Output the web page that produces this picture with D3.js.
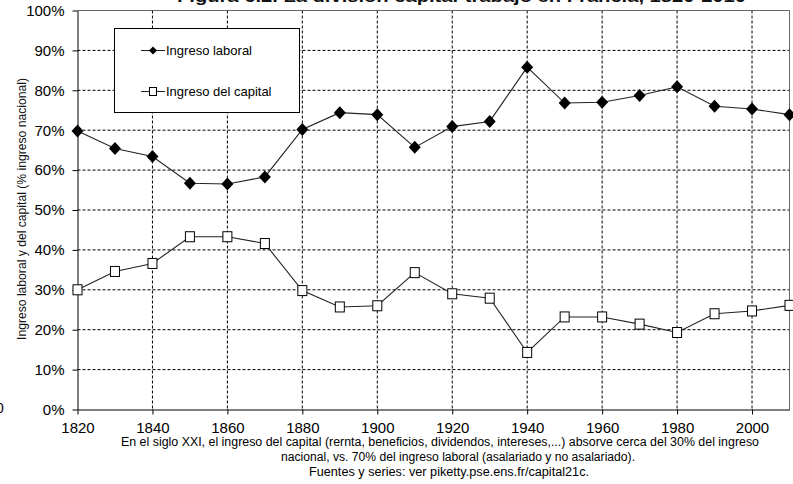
<!DOCTYPE html>
<html><head><meta charset="utf-8">
<script src="https://cdn.jsdelivr.net/npm/d3@7"></script>
<style>
html,body{margin:0;padding:0;background:#fff;overflow:hidden;}
svg{display:block;font-family:"Liberation Sans",Arial,sans-serif;}
</style></head>
<body>
<svg id="c" width="793" height="484"></svg>
<script>
const years = [1820,1830,1840,1850,1860,1870,1880,1890,1900,1910,1920,1930,1940,1950,1960,1970,1980,1990,2000,2010];
const laborShare = [69.8,65.4,63.4,56.7,56.5,58.3,70.2,74.4,73.9,65.7,70.9,72.2,85.8,76.8,77.0,78.7,80.9,76.0,75.3,73.9];
const capitalShare = [30.0,34.6,36.6,43.3,43.3,41.6,29.8,25.7,26.0,34.3,29.0,27.9,14.3,23.2,23.2,21.4,19.3,24.0,24.7,26.1];
const xTicks = [1820,1840,1860,1880,1900,1920,1940,1960,1980,2000];
const yTicks = [0,10,20,30,40,50,60,70,80,90,100];
const seriesNames = ["Ingreso laboral","Ingreso del capital"];
const titleText = "Figura 6.2. La división capital-trabajo en Francia, 1820-2010";
const yTitle = "Ingreso laboral  y del capital (% ingreso nacional)";
const captionLines = [
  "En el siglo XXI,  el ingreso del capital (rernta, beneficios, dividendos, intereses,...) absorve cerca del 30% del ingreso",
  "nacional, vs. 70% del ingreso laboral (asalariado y no asalariado).",
  "Fuentes y series: ver piketty.pse.ens.fr/capital21c."
];

const svg = d3.select("#c");
const x = d3.scaleLinear().domain([1820,2010]).range([77.5,789.5]);
const y = d3.scaleLinear().domain([0,100]).range([409.5,10.5]);

// title (clipped at top)
svg.append("text").attr("x",177).attr("y",2).attr("font-weight","bold").attr("font-size",16)
  .attr("fill","#111")
  .attr("textLength",569).attr("lengthAdjust","spacingAndGlyphs").text(titleText);

// gridlines
const g = svg.append("g");
g.selectAll("line.hg").data(yTicks.filter(d=>d>0&&d<100)).join("line")
  .attr("x1",x(1820)).attr("x2",x(2010)).attr("y1",d=>y(d)).attr("y2",d=>y(d))
  .attr("stroke","#000").attr("stroke-width",1).attr("stroke-dasharray","3,2");
g.selectAll("line.vg").data(xTicks.filter(d=>d>1820)).join("line")
  .attr("x1",d=>x(d)).attr("x2",d=>x(d)).attr("y1",y(100)).attr("y2",y(0))
  .attr("stroke","#000").attr("stroke-width",1).attr("stroke-dasharray","3,2");

// frame
svg.append("line").attr("x1",x(1820)).attr("x2",x(2010)).attr("y1",y(100)).attr("y2",y(100)).attr("stroke","#666");
svg.append("line").attr("x1",x(2010)).attr("x2",x(2010)).attr("y1",y(100)).attr("y2",y(0)).attr("stroke","#666");

// axes
const xAxis = d3.axisBottom(x).tickValues(xTicks).tickFormat(d3.format("d")).tickSize(5).tickSizeOuter(0);
const yAxis = d3.axisLeft(y).tickValues(yTicks).tickFormat(d=>d+"%").tickSize(5).tickSizeOuter(0);
const gx = svg.append("g").attr("transform",`translate(0,${y(0)})`).call(xAxis);
gx.select(".domain").attr("stroke","#000");
gx.selectAll("text").attr("font-size",15).attr("font-family","Liberation Sans, Arial, sans-serif").attr("fill","#000").attr("dy",null).attr("y",23.5);
const gy = svg.append("g").attr("transform",`translate(${x(1820)},0)`).call(yAxis);
gy.select(".domain").attr("stroke","#000");
gy.selectAll("text").attr("font-size",15).attr("font-family","Liberation Sans, Arial, sans-serif").attr("fill","#000").attr("x",-13);

// y title
svg.append("text").attr("transform","translate(26,209) rotate(-90)").attr("text-anchor","middle")
  .attr("font-size",12.5).attr("fill","#111").attr("textLength",262).attr("lengthAdjust","spacingAndGlyphs").text(yTitle);

// stray char at left edge
svg.append("text").attr("x",-4).attr("y",413).attr("font-size",14).text("0");

// lines
const line = d3.line().x((d,i)=>x(years[i])).y(d=>y(d));
svg.append("path").datum(laborShare).attr("d",line).attr("fill","none").attr("stroke","#222").attr("stroke-width",1.1);
svg.append("path").datum(capitalShare).attr("d",line).attr("fill","none").attr("stroke","#222").attr("stroke-width",1.1);

const diamond = (hw,hh)=>`M0,${-hh}L${hw},0L0,${hh}L${-hw},0Z`;
svg.selectAll("path.dm").data(laborShare).join("path").attr("class","dm")
  .attr("transform",(d,i)=>`translate(${x(years[i])},${y(d)})`)
  .attr("d",diamond(6,6.5)).attr("fill","#000");
svg.selectAll("rect.sq").data(capitalShare).join("rect").attr("class","sq")
  .attr("x",(d,i)=>x(years[i])-4.5).attr("y",d=>y(d)-5).attr("width",9).attr("height",10)
  .attr("fill","#fff").attr("stroke","#000").attr("stroke-width",1);

// legend
const lg = svg.append("g");
lg.append("rect").attr("x",114.5).attr("y",28.5).attr("width",185).attr("height",84).attr("fill","#fff").attr("stroke","#000");
const ly = [50,91];
lg.selectAll("line.ll").data(ly).join("line").attr("x1",141).attr("x2",165).attr("y1",d=>d+0.5).attr("y2",d=>d+0.5).attr("stroke","#222");
lg.append("path").attr("transform",`translate(153,${ly[0]+0.5})`).attr("d",diamond(4,4)).attr("fill","#000");
lg.append("rect").attr("x",149.5).attr("y",ly[1]-3.5).attr("width",7).attr("height",8).attr("fill","#fff").attr("stroke","#000");
lg.selectAll("text.lt").data(seriesNames).join("text").attr("x",166).attr("y",(d,i)=>ly[i]+5)
  .attr("font-size",13).text(d=>d);

// caption
const capX = [121,281,309], capW = [638,354,280], capY = [446,461,476];
svg.selectAll("text.cap").data(captionLines).join("text").attr("x",(d,i)=>capX[i]).attr("y",(d,i)=>capY[i])
  .attr("font-size",12).attr("textLength",(d,i)=>capW[i]).attr("lengthAdjust","spacingAndGlyphs").text(d=>d);
</script>
</body></html>
